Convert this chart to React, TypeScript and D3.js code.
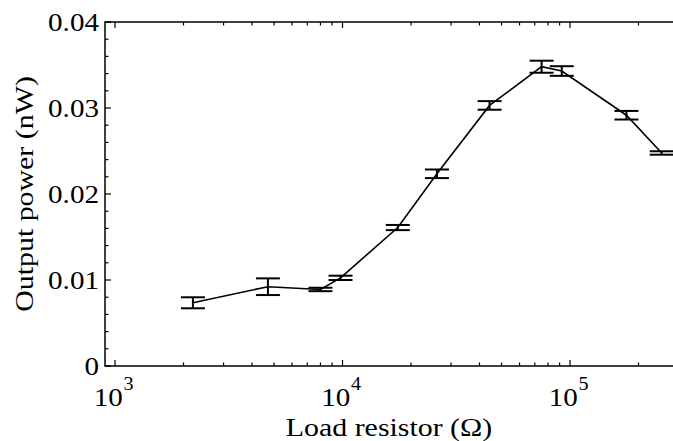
import React from "react";
import * as d3 from "d3";

const resistance = [2200, 4700, 8000, 9800, 17500, 26000, 44300, 75000, 92000, 177000, 253000];
const power = [0.00735, 0.00922, 0.0089, 0.01025, 0.0161, 0.02235, 0.0303, 0.0348, 0.0343, 0.02916, 0.02477];
const powerErr = [0.00064, 0.00097, 0.0002, 0.00025, 0.0003, 0.0005, 0.0005, 0.0007, 0.00056, 0.0005, 0.0002];
const yTicks = [0, 0.01, 0.02, 0.03, 0.04];
const yTickLabels = ["0", "0.01", "0.02", "0.03", "0.04"];
const xMajor = [3, 4, 5];
const xTitle = "Load resistor (\u03A9)";
const yTitle = "Output power (nW)";

const W = 673;
const H = 441;
const left = 105;
const right = 673;
const top = 22;
const bottom = 366;
const FONT = "'Liberation Serif', 'Times New Roman', serif";

export default function App() {
  const x = d3.scaleLog().domain([903.6, 283600]).range([left, right]);
  const y = d3.scaleLinear().domain([0, 0.04]).range([bottom, top]);

  const minorX: number[] = [];
  for (let e = 2; e <= 5; e++) {
    for (let m = 1; m <= 9; m++) {
      const v = m * Math.pow(10, e);
      if (v >= x.domain()[0] && v <= x.domain()[1]) minorX.push(v);
    }
  }
  const minorY = d3.range(0, 0.0401, 0.002);

  const pts = resistance.map((r, i) => [r, power[i]] as [number, number]);
  const line = d3
    .line<[number, number]>()
    .x((d) => x(d[0]))
    .y((d) => y(d[1]));

  const capW = 12;
  const sx = 1.12;

  return (
    <svg
      width={W}
      height={H}
      style={{ position: "absolute", left: 0, top: 0, background: "#fff" }}
      fontFamily={FONT}
    >
      <rect x={0} y={0} width={W} height={H} fill="#fff" />
      {/* ticks */}
      {minorX.map((v, i) => {
        const isMajor = Math.abs(Math.log10(v) - Math.round(Math.log10(v))) < 1e-9;
        const len = isMajor ? 6 : 3.5;
        const px = x(v);
        return (
          <g key={"xt" + i} stroke="#000" strokeWidth={1.2}>
            <line x1={px} x2={px} y1={bottom} y2={bottom - len} />
            <line x1={px} x2={px} y1={top} y2={top + len} />
          </g>
        );
      })}
      {minorY.map((v, i) => {
        const isMajor = Math.abs(v * 100 - Math.round(v * 100)) < 1e-6;
        const len = isMajor ? 6 : 3.5;
        return (
          <line
            key={"yt" + i}
            x1={left}
            x2={left + len}
            y1={y(v)}
            y2={y(v)}
            stroke="#000"
            strokeWidth={1.2}
          />
        );
      })}
      {/* frame */}
      <path
        d={`M${right},${top}H${left}V${bottom}H${right}`}
        fill="none"
        stroke="#000"
        strokeWidth={1.5}
      />
      {/* y tick labels */}
      {yTicks.map((v, i) => (
        <text
          key={"yl" + i}
          transform={`translate(99,${y(v)}) scale(${sx},1)`}
          textAnchor="end"
          dominantBaseline="central"
          fontSize={26}
          fill="#000"
        >
          {yTickLabels[i]}
        </text>
      ))}
      {/* x tick labels */}
      {xMajor.map((e) => (
        <g key={"xl" + e} transform={`translate(${x(Math.pow(10, e))},406) scale(${sx},1)`}>
          <text x={-6} textAnchor="middle" fontSize={26} fill="#000">
            10
          </text>
          <text x={12} y={-16} textAnchor="middle" fontSize={18} fill="#000">
            {e}
          </text>
        </g>
      ))}
      {/* titles */}
      <text
        transform={`translate(${(left + right) / 2},436) scale(1.15,1)`}
        textAnchor="middle"
        fontSize={26}
        fill="#000"
      >
        {xTitle}
      </text>
      <text
        transform={`translate(33,${(top + bottom) / 2}) rotate(-90) scale(1.15,1)`}
        textAnchor="middle"
        fontSize={26}
        fill="#000"
      >
        {yTitle}
      </text>
      {/* line */}
      <path d={line(pts) || ""} fill="none" stroke="#000" strokeWidth={1.6} />
      {/* error bars */}
      {pts.map((d, i) => {
        const px = x(d[0]);
        const y1 = y(d[1] + powerErr[i]);
        const y2 = y(d[1] - powerErr[i]);
        return (
          <g key={"eb" + i} stroke="#000" strokeWidth={2}>
            <line x1={px} x2={px} y1={y1} y2={y2} />
            <line x1={px - capW} x2={px + capW} y1={y1} y2={y1} />
            <line x1={px - capW} x2={px + capW} y1={y2} y2={y2} />
          </g>
        );
      })}
    </svg>
  );
}
